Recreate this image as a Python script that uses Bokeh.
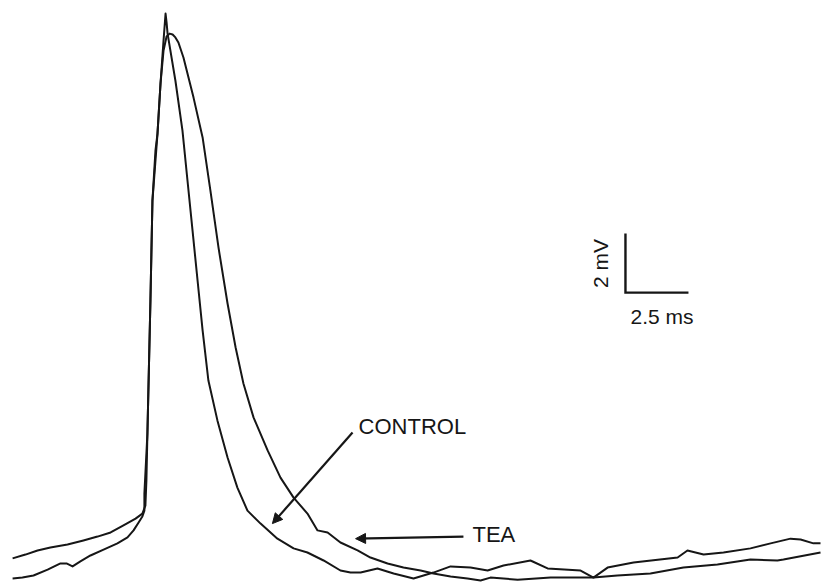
import math

from bokeh.core.properties import value
from bokeh.embed import file_html
from bokeh.models import Arrow, NormalHead, Range1d
from bokeh.plotting import figure
from bokeh.resources import INLINE

# Action potential recordings: time (ms) and membrane voltage (mV, relative to rest)
tea_t = [0.48, 0.99, 1.47, 1.98, 2.66, 3.29, 3.85, 4.37, 4.88, 5.36, 5.63, 5.75, 5.79,
         5.83, 5.95, 6.03, 6.15, 6.23, 6.35, 6.47, 6.59, 6.71, 6.83, 6.94, 7.06, 7.26,
         7.66, 8.02, 8.33, 8.65, 9.01, 9.33, 9.64, 10.04, 10.60, 11.11, 11.63, 12.18,
         12.58, 12.98, 13.49, 14.17, 14.68, 15.36, 15.99, 16.67, 17.18,
         17.86, 18.53, 19.05, 19.44, 20.52, 21.83, 23.53, 24.48, 25.79, 27.10, 28.45,
         29.76, 30.83, 31.07, 32.54]
tea_v = [0.41, 0.54, 0.68, 0.78, 0.88, 1.02, 1.15, 1.29, 1.53, 1.76, 1.93, 2.20, 3.05,
         4.64, 9.15, 12.54, 14.24, 14.81, 16.51, 17.63, 18.10, 18.20, 18.17, 18.07,
         17.90, 17.39, 16.03, 14.68, 12.88, 10.95, 9.05, 7.56, 6.34, 5.19, 4.07, 3.15,
         2.47, 1.93, 1.36, 1.29, 0.95, 0.68, 0.44, 0.24, 0.10, 0.00,
         -0.10, -0.20, -0.27, -0.34, -0.24, -0.31, -0.24, -0.24, -0.17, -0.10, 0.10,
         0.20, 0.37, 0.34, 0.37, 0.61]

control_t = [0.48, 0.87, 1.31, 1.87, 2.38, 2.62, 2.86, 3.17, 3.57, 4.09, 4.64, 5.04,
             5.28, 5.48, 5.63, 5.71, 5.71, 5.83, 5.95, 6.03, 6.23, 6.35, 6.47, 6.55,
             6.59, 6.63, 6.94, 7.22, 7.42, 7.62, 7.82, 8.02, 8.25, 8.61, 9.01, 9.40,
             9.80, 10.32, 10.99, 11.63, 12.18, 12.82, 13.49, 13.89, 14.29,
             14.96, 15.60, 16.39, 17.18, 17.86, 18.65, 19.33, 19.96, 21.03, 21.71, 23.02,
             23.53, 24.09, 25.12, 26.87, 27.26, 27.90, 28.69, 29.76, 30.56, 31.35, 31.75,
             32.26, 32.54]
control_v = [-0.27, -0.24, -0.17, 0.03, 0.24, 0.24, 0.14, 0.31, 0.51, 0.71, 0.92, 1.12,
             1.36, 1.63, 1.83, 2.03, 2.61, 4.64, 9.15, 12.54, 14.81, 16.51, 17.97, 18.88,
             18.58, 18.20, 16.61, 14.92, 13.22, 11.53, 9.83, 8.14, 6.44, 5.08, 3.83, 2.81,
             2.03, 1.59, 1.08, 0.75, 0.61, 0.34, 0.00, -0.07, -0.07, 0.07,
             -0.10, -0.27, -0.07, 0.14, 0.10, 0.00, 0.17, 0.34, 0.07, 0.00, -0.24, 0.10,
             0.27, 0.44, 0.68, 0.54, 0.61, 0.75, 0.92, 1.08, 1.05, 0.92, 0.92]

# Calibration bar
scale_ms = 2.5
scale_mv = 2.0
scale_labels = ["2.5 ms", "2 mV"]
SCALE_T0, SCALE_V0 = 24.80, 9.42

# Trace labels and arrow positions
label_names = ["CONTROL", "TEA"]
label_t = [14.21, 18.73]
label_v = [4.88, 1.22]
arrow_from = [(13.97, 4.68), (18.37, 1.15)]
arrow_to = [(10.79, 1.59), (14.09, 1.08)]

INK = "#161616"
FONT = value("Liberation Sans")

p = figure(width=825, height=586, output_backend="svg", toolbar_location=None,
           x_range=Range1d(0, 32.738), y_range=Range1d(-0.542, 19.322),
           min_border=0, outline_line_color=None, background_fill_color="white",
           border_fill_color="white")
p.axis.visible = False
p.grid.visible = False

p.line(control_t, control_v, line_color=INK, line_width=2.0, line_join="round")
p.line(tea_t, tea_v, line_color=INK, line_width=2.0, line_join="round")

# L-shaped scale bar
p.line([SCALE_T0, SCALE_T0, SCALE_T0 + scale_ms],
       [SCALE_V0 + scale_mv, SCALE_V0, SCALE_V0],
       line_color=INK, line_width=2.4, line_join="miter")
p.text(x=[SCALE_T0 + 0.2], y=[SCALE_V0 - 0.81], text=[scale_labels[0]],
       text_font=FONT, text_font_size="21px", text_color=INK,
       text_align="left", text_baseline="middle")
p.text(x=[SCALE_T0 - 0.99], y=[SCALE_V0 + 0.99], text=[scale_labels[1]],
       text_font=FONT, text_font_size="21px", text_color=INK, angle=math.pi / 2,
       text_align="center", text_baseline="middle")

# Labels with pointer arrows
p.text(x=label_t, y=label_v, text=label_names, text_font=FONT,
       text_font_size="22px", text_color=INK, text_align="left",
       text_baseline="middle")
for (x0, y0), (x1, y1) in zip(arrow_from, arrow_to):
    p.add_layout(Arrow(x_start=x0, y_start=y0, x_end=x1, y_end=y1,
                       line_color=INK, line_width=2.2,
                       end=NormalHead(size=10, fill_color=INK, line_color=INK,
                                      line_width=1)))

open("out.html", "w").write(file_html(p, INLINE))
